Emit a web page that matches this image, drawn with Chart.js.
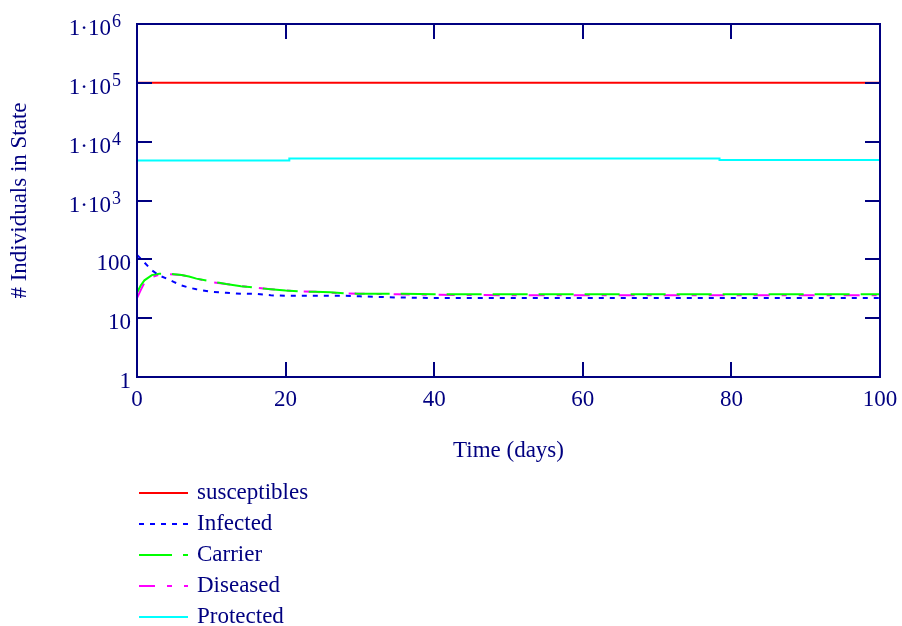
<!DOCTYPE html>
<html lang="en">
<head>
    <meta charset="UTF-8">
    <title># Individuals in State</title>
    <script src="https://cdn.jsdelivr.net/npm/chart.js"></script>
    <style>
        body {
            margin: 0;
            background: #ffffff;
        }
        canvas {
            display: block;
        }
    </style>
</head>
<body>
    <canvas id="myChart" width="902" height="626"></canvas>

    <script>
        // time points (days) shared by the epidemic curves
        const days = [0, 0.5, 1, 2, 3, 4, 5, 6, 7, 8, 10, 12, 14, 16, 18, 20, 22, 24, 26, 28, 30, 35, 40, 50, 60, 70, 80, 90, 100];
        const infected = [119, 103, 88, 65, 53, 47, 41, 36, 33, 31, 28, 27, 26, 26, 24.5, 24, 24, 24, 24, 24, 23.5, 22.5, 22, 22, 22, 22, 22, 22, 22];
        const carrier = [27, 36, 44, 54, 57, 57, 56, 54, 51, 47, 42, 38, 35, 33, 31, 29.5, 28.5, 28, 27.5, 26.5, 26, 26, 25.5, 25.5, 25.5, 25.5, 25.5, 25.5, 25.5];
        const diseased = [22, 30, 40, 50, 55, 56, 55, 54, 51, 47, 41, 38, 35, 33, 31, 29.5, 28.5, 28, 27, 26.5, 26, 25.5, 25, 24.5, 24.5, 24.5, 24.5, 24.5, 24.5];

        const susDays = [0, 100];
        const susceptibles = [100000, 100000];

        const protDays = [0, 20.5, 20.5, 78.4, 78.4, 100];
        const protectedPop = [4770, 4770, 5200, 5200, 4870, 4870];

        const xTickValues = [0, 20, 40, 60, 80, 100];
        const yTickValues = [1, 10, 100, 1000, 10000, 100000, 1000000];
        const yTickBase = ['1', '10', '100', '1·10', '1·10', '1·10', '1·10'];
        const yTickExp = ['', '', '', '3', '4', '5', '6'];

        const navy = '#000080';
        const serif = '"Liberation Serif", "Times New Roman", serif';

        Chart.defaults.font.family = serif;
        Chart.defaults.font.size = 23;
        Chart.defaults.color = navy;

        const pairs = (xs, ys) => xs.map((d, i) => ({ x: d, y: ys[i] }));

        // box round the plot with inward ticks, and the y labels with raised exponents
        const framePlugin = {
            id: 'frame',
            afterDatasetsDraw(chart) {
                const { ctx, chartArea: a, scales: { x, y } } = chart;
                const len = 15;
                ctx.save();
                ctx.strokeStyle = navy;
                ctx.lineWidth = 2;
                ctx.strokeRect(a.left, a.top, a.right - a.left, a.bottom - a.top);
                ctx.beginPath();
                y.ticks.forEach(t => {
                    const py = Math.round(y.getPixelForValue(t.value));
                    ctx.moveTo(a.left, py); ctx.lineTo(a.left + len, py);
                    ctx.moveTo(a.right, py); ctx.lineTo(a.right - len, py);
                });
                x.ticks.forEach(t => {
                    const px = Math.round(x.getPixelForValue(t.value));
                    ctx.moveTo(px, a.top); ctx.lineTo(px, a.top + len);
                    ctx.moveTo(px, a.bottom); ctx.lineTo(px, a.bottom - len);
                });
                ctx.stroke();

                ctx.fillStyle = navy;
                ctx.textBaseline = 'alphabetic';
                yTickValues.forEach((v, i) => {
                    const base = y.getPixelForValue(v) + 11;
                    ctx.font = '23px ' + serif;
                    if (yTickExp[i]) {
                        ctx.textAlign = 'right';
                        ctx.fillText(yTickBase[i], a.left - 26, base);
                        ctx.font = '18px ' + serif;
                        ctx.textAlign = 'left';
                        ctx.fillText(yTickExp[i], a.left - 25, base - 8);
                    } else {
                        ctx.textAlign = 'right';
                        ctx.fillText(yTickBase[i], a.left - 6, base);
                    }
                });
                ctx.restore();
            }
        };

        // vertical legend under the axis title
        const legendPlugin = {
            id: 'stackLegend',
            afterDraw(chart) {
                const { ctx, chartArea: a } = chart;
                ctx.save();
                ctx.font = '23px ' + serif;
                ctx.textBaseline = 'middle';
                ctx.fillStyle = navy;
                chart.data.datasets.forEach((ds, i) => {
                    const yy = a.bottom + 116 + i * 31;
                    const x0 = a.left + 2;
                    ctx.beginPath();
                    ctx.strokeStyle = ds.borderColor;
                    ctx.lineWidth = 2;
                    ctx.setLineDash(ds.borderDash || []);
                    ctx.moveTo(x0, yy);
                    ctx.lineTo(x0 + 49, yy);
                    ctx.stroke();
                    ctx.setLineDash([]);
                    ctx.fillText(ds.label, x0 + 58, yy);
                });
                ctx.restore();
            }
        };

        const ctx = document.getElementById('myChart').getContext('2d');
        const myChart = new Chart(ctx, {
            type: 'line',
            data: {
                datasets: [
                    { label: 'susceptibles', data: pairs(susDays, susceptibles), borderColor: '#ff0000', borderWidth: 2 },
                    { label: 'Infected', data: pairs(days, infected), borderColor: '#0000ff', borderWidth: 2, borderDash: [5, 6] },
                    { label: 'Carrier', data: pairs(days, carrier), borderColor: '#00ff00', borderWidth: 2, borderDash: [33, 11, 2, 0] },
                    { label: 'Diseased', data: pairs(days, diseased), borderColor: '#ff00ff', borderWidth: 2, borderDash: [16, 12, 5, 12] },
                    { label: 'Protected', data: pairs(protDays, protectedPop), borderColor: '#00ffff', borderWidth: 2 }
                ]
            },
            options: {
                responsive: false,
                animation: false,
                layout: {
                    padding: { top: 24, right: 22, left: 0, bottom: 149 }
                },
                elements: {
                    point: { radius: 0 },
                    line: { tension: 0, fill: false }
                },
                plugins: {
                    legend: { display: false },
                    tooltip: { enabled: false }
                },
                scales: {
                    x: {
                        type: 'linear',
                        min: 0,
                        max: 100,
                        grid: { display: false, drawTicks: false },
                        border: { display: false },
                        afterBuildTicks: scale => {
                            scale.ticks = xTickValues.map(v => ({ value: v }));
                        },
                        afterFit: scale => {
                            scale.height = 100;
                            scale.paddingLeft = 0;
                            scale.paddingRight = 0;
                        },
                        ticks: { padding: 9, maxRotation: 0, autoSkip: false, color: navy },
                        title: {
                            display: true,
                            text: 'Time (days)',
                            color: navy,
                            padding: { top: 0, bottom: 12 }
                        }
                    },
                    y: {
                        type: 'logarithmic',
                        min: 1,
                        max: 1000000,
                        grid: { display: false, drawTicks: false },
                        border: { display: false },
                        afterBuildTicks: scale => {
                            scale.ticks = yTickValues.map(v => ({ value: v }));
                        },
                        afterFit: scale => { scale.width = 137; },
                        ticks: { display: false },
                        title: {
                            display: true,
                            text: '# Individuals in State',
                            color: navy,
                            padding: { top: 6, bottom: 0 }
                        }
                    }
                }
            },
            plugins: [framePlugin, legendPlugin]
        });
    </script>
</body>
</html>
